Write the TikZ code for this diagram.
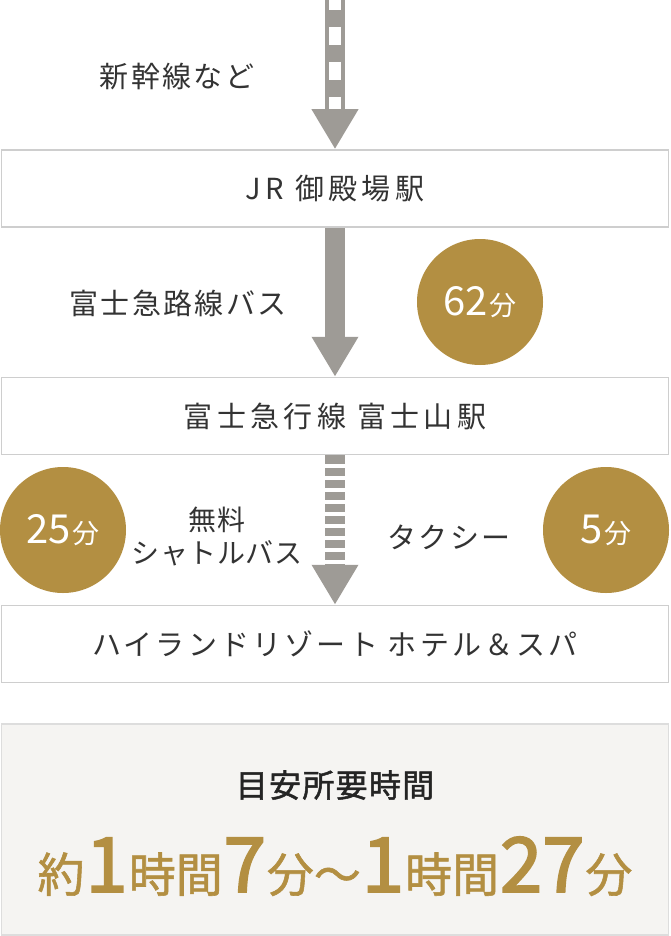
\documentclass[tikz,border=0pt]{standalone}
\usepackage{fontspec}
\setmainfont{Noto Sans CJK JP}
\usetikzlibrary{arrows.meta,positioning}
\definecolor{gold}{RGB}{179,143,66}
\definecolor{arrowgray}{RGB}{158,155,150}
\definecolor{framegray}{RGB}{206,206,206}
\definecolor{textgray}{RGB}{51,51,51}
\definecolor{panelbg}{RGB}{245,244,242}
\newcommand{\kj}[1]{{\fontsize{47}{47}\selectfont\addfontfeatures{FakeBold=1.2}#1}}
\newcommand{\dg}[1]{{\fontsize{76}{76}\selectfont\addfontfeatures{FakeBold=2.5}\hspace{1pt}#1\hspace{1pt}}}
\newcommand{\mins}[1]{{\fontsize{40}{40}\selectfont #1}\,{\fontsize{27}{27}\selectfont 分}}

\begin{document}
\begin{tikzpicture}[x=1pt,y=-1pt,
   station/.style={draw=framegray,line width=1.5pt,fill=white,minimum width=667pt,
      minimum height=77pt,inner sep=0pt,text=textgray,
      font=\fontsize{29}{29}\selectfont\addfontfeatures{LetterSpace=15}},
   note/.style={text=textgray,font=\fontsize{29}{29}\selectfont\addfontfeatures{LetterSpace=8},
      align=center},
   badge/.style={circle,fill=gold,minimum size=126pt,inner sep=0pt,text=white},
   route/.style={arrowgray,line width=20pt,-{Triangle[length=40pt,width=44pt]}},
   gapline/.style={white,line width=21pt}]
   \useasboundingbox (0,0) rectangle (670,936);

   \node[station] (gotemba) at (335,188.5) {JR 御殿場駅};
   \node[station] (fujisan) at (335,416) {富士急行線 富士山駅};
   \node[station,font=\fontsize{29}{29}\selectfont\addfontfeatures{LetterSpace=11}] (hotel)
      at (335,644) {ハイランドリゾート ホテル＆スパ};

   \node[note] (shinkansen) at (177,77) {新幹線など};
   \node[note] (fujikyubus) at (178,303) {富士急路線バス};
   \node[note,font=\fontsize{28}{33}\selectfont\addfontfeatures{LetterSpace=2}] (shuttle)
      at (217,536) {無料\\シャトルバス};
   \node[note] (taxi) at (449,537) {タクシー};

   \node[badge] (bus62) at (480,302) {\mins{62}};
   \node[badge] (shuttle25) at (63,530) {\mins{25}};
   \node[badge] (taxi5) at (606,530) {\mins{5}};

   % arrows
   \coordinate (origin) at (335,0);
   \draw[route] (origin) -- (gotemba);
   \draw[gapline,line width=12pt,dash pattern=on 18pt off 17pt,dash phase=8pt]
      (origin) -- ([yshift=40pt]gotemba.north);
   \draw[route] (gotemba) -- (fujisan);
   \draw[route] (fujisan) -- (hotel);
   \draw[gapline,dash pattern=on 4pt off 8pt,dash phase=4pt]
      ([yshift=-1pt]fujisan.south) -- ([yshift=40pt]hotel.north);

   % summary
   \node[draw=framegray!70,line width=1.5pt,fill=panelbg,minimum width=667pt,
      minimum height=211pt] (panel) at (335,829.5) {};
   \node[text=textgray!70!black,
      font=\fontsize{32}{32}\selectfont\addfontfeatures{FakeBold=1.5,LetterSpace=4}] (heading)
      at (335,785) {目安所要時間};
   \node[text=gold,anchor=base] (total) at (335,892)
      {\kj{約}\dg{1}\kj{時間}\dg{7}\kj{分～}\dg{1}\kj{時間}\dg{27}\kj{分}};
\end{tikzpicture}
\end{document}
